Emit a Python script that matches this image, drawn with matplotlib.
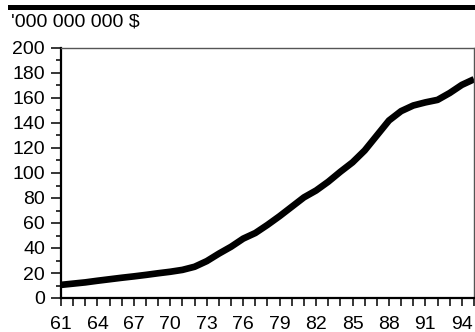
import matplotlib
matplotlib.use("Agg")
import matplotlib.pyplot as plt
from matplotlib.ticker import MultipleLocator, FixedLocator

plt.rcParams['font.family'] = ['Liberation Sans', 'DejaVu Sans']

years = list(range(61, 96))
values = [10.5, 11.5, 12.5, 13.8, 15, 16.2, 17.3, 18.5, 19.8, 21,
          22.5, 25, 29.5, 35.5, 41, 47.5, 52, 58.5, 65.5, 73,
          80.5, 86, 93, 101, 108.5, 118, 130, 142, 149.5, 154,
          156.5, 158.5, 164, 170.5, 175]
xtick_labels = [61, 64, 67, 70, 73, 76, 79, 82, 85, 88, 91, 94]
unit_label = "'000 000 000 $"

W, H = 475, 332
fig = plt.figure(figsize=(W / 100, H / 100), dpi=100)
ax = fig.add_axes([61 / W, 1 - 298 / H, (474 - 61) / W, (298 - 48) / H])

ax.plot(years, values, color='black', lw=4.8, solid_capstyle='butt',
        solid_joinstyle='round', clip_on=True)

ax.set_xlim(61, 95)
ax.set_ylim(0, 200)

ax.yaxis.set_major_locator(MultipleLocator(20))
ax.yaxis.set_minor_locator(MultipleLocator(10))
ax.xaxis.set_major_locator(FixedLocator(xtick_labels))
ax.xaxis.set_minor_locator(MultipleLocator(1))
ax.set_xticklabels([str(v) for v in xtick_labels])

ax.tick_params(axis='y', which='major', length=7.5, width=1.1, direction='out',
               labelsize=14, pad=4, color='black')
ax.tick_params(axis='y', which='minor', length=3.8, width=1.1, direction='out',
               color='black')
ax.tick_params(axis='x', which='both', length=6, width=1.1, direction='out',
               labelsize=14, pad=7, color='black')

for s in ['left', 'bottom']:
    ax.spines[s].set_linewidth(1.6)
    ax.spines[s].set_color('black')
for s in ['top', 'right']:
    ax.spines[s].set_linewidth(1.0)
    ax.spines[s].set_color('#555555')

# top thick bar
fig.add_artist(plt.Line2D([10 / W, 1.0], [1 - 7 / H, 1 - 7 / H],
                          transform=fig.transFigure, color='black', lw=3.6))
fig.text(11 / W, 1 - 22 / H, unit_label, fontsize=14, ha='left', va='center')

fig.savefig('out.png', dpi=100)
